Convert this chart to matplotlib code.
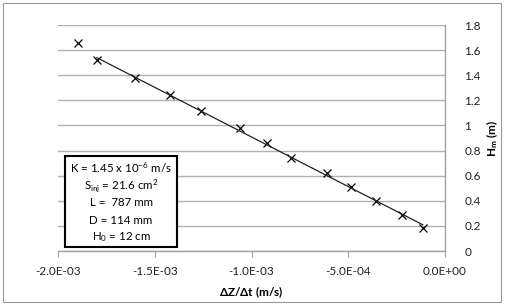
import matplotlib
matplotlib.use("Agg")
import matplotlib.pyplot as plt
import numpy as np
from matplotlib.patches import Rectangle

plt.rcParams['font.family'] = ['Lato', 'DejaVu Sans']
plt.rcParams['mathtext.fontset'] = 'custom'
plt.rcParams['mathtext.rm'] = 'Lato'
plt.rcParams['mathtext.it'] = 'Lato'
plt.rcParams['mathtext.bf'] = 'Lato:bold'
plt.rcParams['mathtext.default'] = 'regular'

# Data
dzdt = [-1.897e-3, -1.799e-3, -1.601e-3, -1.423e-3, -1.260e-3, -1.062e-3,
        -0.921e-3, -0.797e-3, -0.608e-3, -0.487e-3, -0.358e-3, -0.220e-3, -0.115e-3]
hm = [1.656, 1.523, 1.376, 1.243, 1.116, 0.982, 0.857, 0.737, 0.618, 0.506,
      0.399, 0.290, 0.186]
fit_start = 1  # trendline fitted on points from index 1 onward

xticks = [-2.0e-3, -1.5e-3, -1.0e-3, -5.0e-4, 0.0]
xticklabels = ['-2.0E-03', '-1.5E-03', '-1.0E-03', '-5.0E-04', '0.0E+00']
yticks = [0, 0.2, 0.4, 0.6, 0.8, 1.0, 1.2, 1.4, 1.6, 1.8]
yticklabels = ['0', '0.2', '0.4', '0.6', '0.8', '1', '1.2', '1.4', '1.6', '1.8']
box_lines = [r'K = 1.45 x 10$^{-6}$ m/s', r'S$_{inj}$ = 21.6 cm$^{2}$',
             'L =  787 mm', 'D = 114 mm', r'H$_{0}$ = 12 cm']

W, H = 505, 305
fig = plt.figure(figsize=(W / 100, H / 100), dpi=100)
fig.patches.append(Rectangle((3 / W, 3 / H), 498 / W, 299 / H, transform=fig.transFigure,
                             fill=False, edgecolor='#9a9a9a', linewidth=0.8))

ax = fig.add_axes([58 / W, (H - 251) / H, 387 / W, 226 / H])
ax.set_xlim(-2.0e-3, 0.0)
ax.set_ylim(0, 1.8)

grey = '#a0a0a0'
ax.set_yticks(yticks)
ax.set_yticklabels(yticklabels)
ax.set_xticks(xticks)
ax.set_xticklabels(xticklabels)
ax.yaxis.tick_right()
ax.yaxis.set_label_position('right')
ax.grid(axis='y', color='#b0b0b0', linewidth=1.0)
ax.set_axisbelow(True)
for s in ['top', 'left']:
    ax.spines[s].set_visible(False)
for s in ['right', 'bottom']:
    ax.spines[s].set_color(grey)
    ax.spines[s].set_linewidth(1.0)
ax.tick_params(axis='y', length=0, pad=14, labelsize=8.5, colors='#222222')
ax.tick_params(axis='x', length=4, direction='out', color=grey, pad=7, labelsize=8.5,
               labelcolor='#222222')
for lab in ax.get_yticklabels():
    lab.set_horizontalalignment('left')

x = np.array(dzdt)
y = np.array(hm)
ax.plot(x, y, linestyle='none', marker='x', color='black', markersize=6, markeredgewidth=0.9)
coef = np.polyfit(x[fit_start:], y[fit_start:], 1)
xf = np.array([x[fit_start], x[-1]])
ax.plot(xf, np.polyval(coef, xf), color='#222222', linewidth=0.9)

ax.set_xlabel(r'$\mathbf{\Delta Z/\Delta t}$ (m/s)', fontsize=8.5, fontweight='bold', labelpad=5)
fig.text(492 / W, 1 - 138 / H, r'$\mathbf{H_m}$ (m)', rotation=90, fontsize=8.5,
         fontweight='bold', ha='center', va='center')

# Text box
fig.patches.append(Rectangle((65 / W, 1 - 247 / H), 112 / W, 91 / H, transform=fig.transFigure,
                             fill=True, facecolor='white', edgecolor='black', linewidth=1.5,
                             zorder=5))
ys = [168, 185, 202, 220, 237]
for t, yy in zip(box_lines, ys):
    fig.text(121 / W, 1 - yy / H, t, ha='center', va='center', fontsize=8.3, zorder=6)

fig.savefig('out.png', dpi=100)
